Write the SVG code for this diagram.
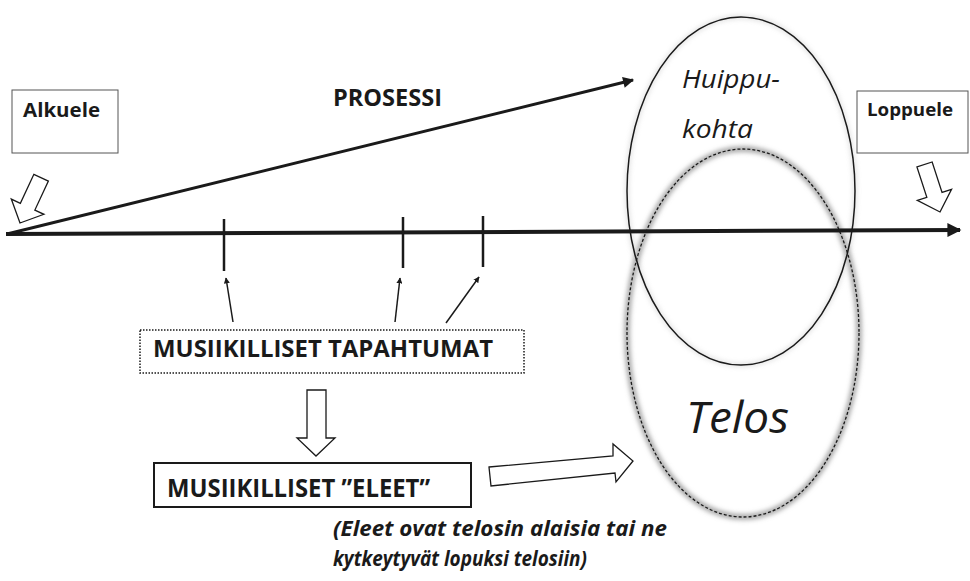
<svg xmlns="http://www.w3.org/2000/svg" width="970" height="581" viewBox="0 0 970 581">
<defs>
<style>
.lbl{font-family:"Open Sans","Liberation Sans",sans-serif;font-weight:bold;fill:#1a1a1a}
.ital{font-family:"Open Sans","Liberation Sans",sans-serif;font-style:italic;fill:#1a1a1a}
.box{fill:#fff;stroke:#555;stroke-width:1}
.hollow{fill:#fff;stroke:#1a1a1a;stroke-width:1.3;stroke-linejoin:miter}
.tick{stroke:#1a1a1a;stroke-width:2.5}
.thin{stroke:#1a1a1a;stroke-width:1.5;fill:none}
</style>
<marker id="headS" viewBox="0 0 10 10" refX="9" refY="5" markerWidth="6" markerHeight="6" markerUnits="userSpaceOnUse" orient="auto"><path d="M0,0 L10,5 L0,10 z" fill="#1a1a1a"/></marker>
<marker id="headM" viewBox="0 0 10 10" refX="9" refY="5" markerWidth="14" markerHeight="11" markerUnits="userSpaceOnUse" orient="auto"><path d="M0,0 L10,5 L0,10 z" fill="#1a1a1a"/></marker>
<marker id="headL" viewBox="0 0 10 10" refX="9" refY="5" markerWidth="15" markerHeight="14" markerUnits="userSpaceOnUse" orient="auto"><path d="M0,0 L10,5 L0,10 z" fill="#1a1a1a"/></marker>
<filter id="glow" x="-20%" y="-20%" width="140%" height="140%"><feGaussianBlur stdDeviation="2.5"/></filter>
<path id="hArrow" d="M0,0 L-18,-18 L-18,-8 L-50,-8 L-50,8 L-18,8 L-18,18 Z"/>
</defs>
<rect width="970" height="581" fill="#fff"/>

<g id="ellipses">
<ellipse cx="743" cy="333" rx="116" ry="184" fill="none" stroke="#9a9a9a" stroke-width="5" filter="url(#glow)"/>
<ellipse cx="741" cy="191" rx="114" ry="174" fill="none" stroke="#bbb" stroke-width="3" filter="url(#glow)" opacity="0.6"/>
</g>

<g id="connectors">
<line x1="6" y1="234" x2="960" y2="230" stroke="#1a1a1a" stroke-width="4" marker-end="url(#headL)"/>
<line x1="7" y1="234" x2="633" y2="80" stroke="#1a1a1a" stroke-width="3" marker-end="url(#headM)"/>
<line class="tick" x1="224" y1="219" x2="224" y2="271"/>
<line class="tick" x1="403" y1="217" x2="403" y2="268"/>
<line class="tick" x1="483" y1="216" x2="483" y2="267" stroke-width="5"/>
<line class="thin" x1="233" y1="322" x2="226" y2="278" marker-end="url(#headS)"/>
<line class="thin" x1="395" y1="322" x2="400" y2="278" marker-end="url(#headS)"/>
<line class="thin" x1="446" y1="323" x2="479" y2="277" marker-end="url(#headS)"/>
<use href="#hArrow" class="hollow" transform="translate(20,223) rotate(115)"/>
<use href="#hArrow" class="hollow" transform="translate(940,212) rotate(72)"/>
<polygon class="hollow" points="307,390 326,390 326,438 335,438 316,456 297,438 307,438"/>
<polygon class="hollow" points="489,467 613,456 613,444 633,461 616,482 615,473 491,486"/>
</g>

<g id="huippukohta">
<ellipse cx="741" cy="191" rx="114" ry="174" fill="none" stroke="#1a1a1a" stroke-width="1.5"/>
<text class="ital" x="682" y="88" font-size="25" textLength="98" lengthAdjust="spacingAndGlyphs">Huippu-</text>
<text class="ital" x="682" y="138" font-size="25" textLength="71" lengthAdjust="spacingAndGlyphs">kohta</text>
</g>

<g id="telos">
<ellipse cx="743" cy="333" rx="116" ry="184" fill="none" stroke="#1a1a1a" stroke-width="1.3" stroke-dasharray="3,2"/>
<text class="ital" x="686" y="433" font-size="44" textLength="103" lengthAdjust="spacingAndGlyphs">Telos</text>
</g>

<g id="alkuele">
<rect class="box" x="12" y="90" width="106" height="63"/>
<text class="lbl" x="23" y="117" font-size="19" textLength="77" lengthAdjust="spacingAndGlyphs">Alkuele</text>
</g>

<g id="loppuele">
<rect class="box" x="857" y="91" width="111" height="62"/>
<text class="lbl" x="867" y="116" font-size="18" textLength="86" lengthAdjust="spacingAndGlyphs">Loppuele</text>
</g>

<g id="prosessi">
<text class="lbl" x="333" y="106" font-size="23" textLength="109" lengthAdjust="spacingAndGlyphs">PROSESSI</text>
</g>

<g id="tapahtumat">
<rect x="140" y="330" width="384" height="43" fill="#fff" stroke="#1a1a1a" stroke-width="1.5" stroke-dasharray="1.5,1.5"/>
<text class="lbl" x="153" y="357" font-size="24" textLength="340" lengthAdjust="spacingAndGlyphs">MUSIIKILLISET TAPAHTUMAT</text>
</g>

<g id="eleet">
<rect x="154" y="463" width="317" height="44" fill="#fff" stroke="#1a1a1a" stroke-width="2"/>
<text class="lbl" x="167" y="497" font-size="25" textLength="263" lengthAdjust="spacingAndGlyphs">MUSIIKILLISET ”ELEET”</text>
</g>

<g id="note">
<text class="ital" font-weight="bold" x="333" y="536" font-size="22" textLength="334" lengthAdjust="spacingAndGlyphs">(Eleet ovat telosin alaisia tai ne</text>
<text class="ital" font-weight="bold" x="333" y="566" font-size="22" textLength="254" lengthAdjust="spacingAndGlyphs">kytkeytyvät lopuksi telosiin)</text>
</g>
</svg>
